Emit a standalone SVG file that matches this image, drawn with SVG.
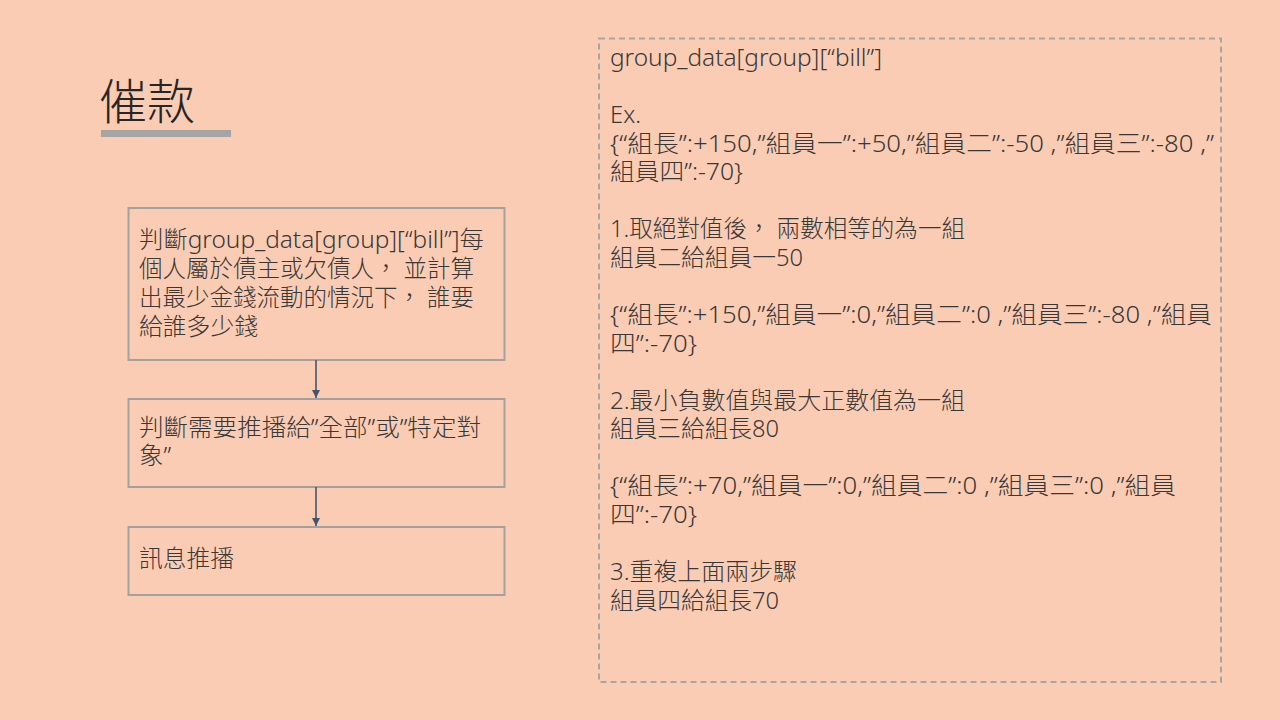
<svg xmlns="http://www.w3.org/2000/svg" width="1280" height="720" viewBox="0 0 1280 720">
<style>
.bg{fill:#FBCCB4}
.t{font-family:"Noto Sans","Noto Sans CJK TC",sans-serif;font-size:23.5px;fill:#383838;font-weight:300}
.title{font-family:"Noto Sans CJK TC",sans-serif;font-size:48px;fill:#262626;font-weight:300}
.box{fill:none;stroke:#A3A19F;stroke-width:2}
.dash{fill:none;stroke:#A5A5A5;stroke-width:2;stroke-dasharray:6 4}
.conn{stroke:#44546A;stroke-width:1.6;fill:none}
</style>
<defs>
<marker id="arr" markerUnits="userSpaceOnUse" markerWidth="9" markerHeight="9" refX="8" refY="4" orient="auto">
<path d="M0,0 L8,4 L0,8 z" fill="#44546A"/>
</marker>
</defs>
<rect class="bg" x="0" y="0" width="1280" height="720"/>

<g id="title">
<text class="title" x="99" y="119">催款</text>
<rect x="101" y="130" width="130" height="7" fill="#A5A5A5"/>
</g>

<g id="node1">
<rect class="box" x="128.5" y="208" width="376" height="152"/>
<text class="t" x="139" y="248" textLength="345" lengthAdjust="spacingAndGlyphs">判斷group_data[group][“bill”]每</text>
<text class="t" x="139" y="277" textLength="335" lengthAdjust="spacingAndGlyphs">個人屬於債主或欠債人， 並計算</text>
<text class="t" x="139" y="306" textLength="335" lengthAdjust="spacingAndGlyphs">出最少金錢流動的情況下， 誰要</text>
<text class="t" x="139" y="335" textLength="119" lengthAdjust="spacingAndGlyphs">給誰多少錢</text>
</g>

<g id="node2">
<rect class="box" x="128.5" y="399" width="376" height="88"/>
<text class="t" x="139" y="435.5" textLength="342" lengthAdjust="spacingAndGlyphs">判斷需要推播給”全部”或”特定對</text>
<text class="t" x="139" y="464" textLength="32" lengthAdjust="spacingAndGlyphs">象”</text>
</g>

<g id="node3">
<rect class="box" x="128.5" y="527" width="376" height="68"/>
<text class="t" x="139" y="566.5" textLength="95" lengthAdjust="spacingAndGlyphs">訊息推播</text>
</g>

<g id="connectors">
<line class="conn" x1="316" y1="360" x2="316" y2="398" marker-end="url(#arr)"/>
<line class="conn" x1="316" y1="487" x2="316" y2="526" marker-end="url(#arr)"/>
</g>

<g id="note">
<rect class="dash" x="599" y="38.5" width="622" height="643.5"/>
<text class="t" x="610" y="66" textLength="272" lengthAdjust="spacingAndGlyphs">group_data[group][“bill”]</text>
<text class="t" x="610" y="123" textLength="31" lengthAdjust="spacingAndGlyphs">Ex.</text>
<text class="t" x="610" y="151.5" textLength="604" lengthAdjust="spacingAndGlyphs">{“組長”:+150,”組員一”:+50,”組員二”:-50 ,”組員三”:-80 ,”</text>
<text class="t" x="610" y="180" textLength="133" lengthAdjust="spacingAndGlyphs">組員四”:-70}</text>
<text class="t" x="610" y="237" textLength="355" lengthAdjust="spacingAndGlyphs">1.取絕對值後， 兩數相等的為一組</text>
<text class="t" x="610" y="265.5" textLength="193" lengthAdjust="spacingAndGlyphs">組員二給組員一50</text>
<text class="t" x="610" y="323" textLength="602" lengthAdjust="spacingAndGlyphs">{“組長”:+150,”組員一”:0,”組員二”:0 ,”組員三”:-80 ,”組員</text>
<text class="t" x="610" y="351.5" textLength="87" lengthAdjust="spacingAndGlyphs">四”:-70}</text>
<text class="t" x="610" y="408.5" textLength="355" lengthAdjust="spacingAndGlyphs">2.最小負數值與最大正數值為一組</text>
<text class="t" x="610" y="437" textLength="169" lengthAdjust="spacingAndGlyphs">組員三給組長80</text>
<text class="t" x="610" y="494" textLength="566" lengthAdjust="spacingAndGlyphs">{“組長”:+70,”組員一”:0,”組員二”:0 ,”組員三”:0 ,”組員</text>
<text class="t" x="610" y="522.5" textLength="87" lengthAdjust="spacingAndGlyphs">四”:-70}</text>
<text class="t" x="610" y="580" textLength="187" lengthAdjust="spacingAndGlyphs">3.重複上面兩步驟</text>
<text class="t" x="610" y="608.5" textLength="169" lengthAdjust="spacingAndGlyphs">組員四給組長70</text>
</g>
</svg>
